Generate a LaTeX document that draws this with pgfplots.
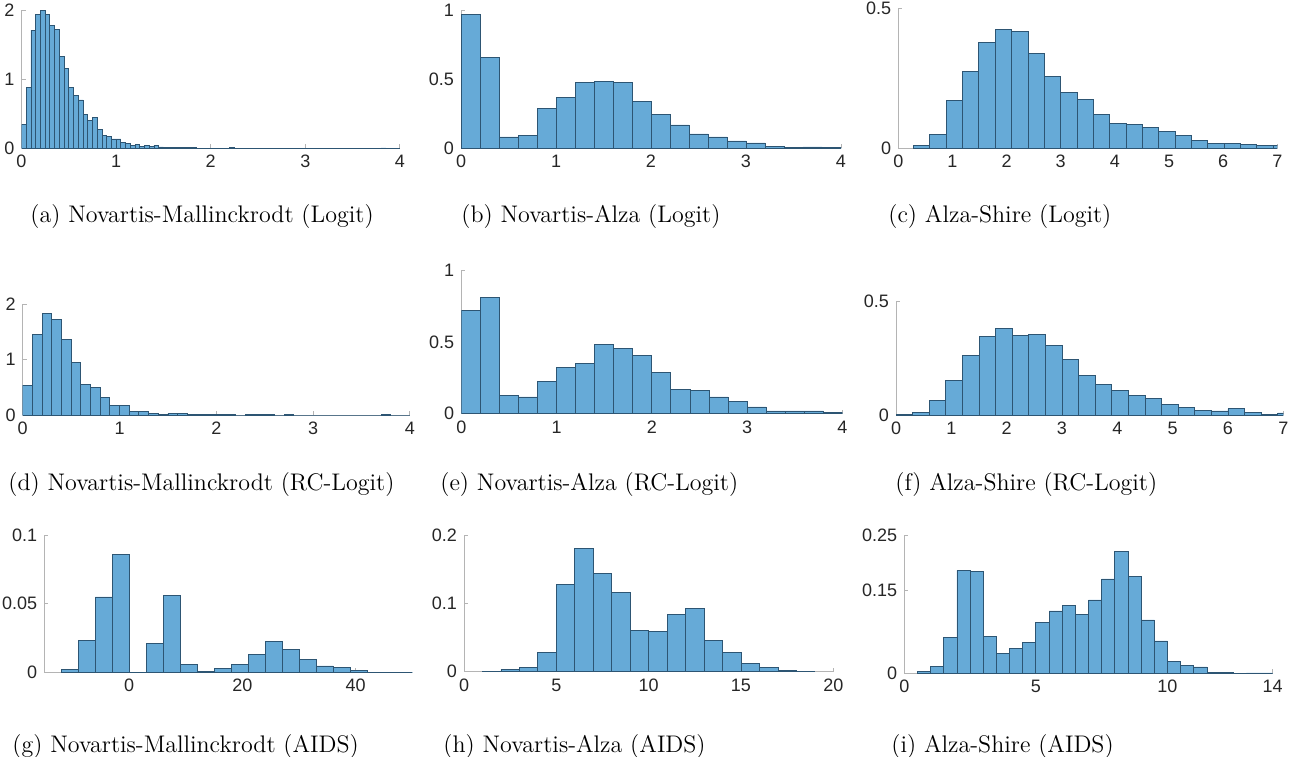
\documentclass[border=0pt]{standalone}
\usepackage{fontspec}
\usepackage{pgfplots}
\pgfplotsset{compat=1.18}
\newfontfamily\helv{Liberation Sans}
\definecolor{barfill}{RGB}{102,170,215}
\definecolor{baredge}{RGB}{45,85,115}
\definecolor{axgray}{RGB}{180,180,180}
\definecolor{tickgray}{RGB}{38,38,38}

\pgfplotsset{
  hist/.style={
    scale only axis, anchor=south west,
    axis x line=bottom, axis y line=left,
    axis line style={-, draw=axgray, line width=0.5pt},
    tick style={draw=axgray, line width=0.5pt},
    tick align=inside, major tick length=2pt,
    ticklabel style={font=\helv\fontsize{9}{10}\selectfont, text=tickgray},
    scaled ticks=false, ymin=0,
  },
  bars/.style={ybar interval, fill=barfill, draw=baredge, line width=0.4pt},
}
\tikzset{subcap/.style={anchor=west, inner sep=0pt, font=\fontsize{12}{14}\selectfont}}

\begin{document}
\begin{tikzpicture}
\path[use as bounding box] (0pt,0pt) rectangle (650.5pt,-378pt);

% (a)
\begin{axis}[hist, at={(10.75pt,-74.15pt)}, width=189.25pt, height=69.15pt,
  xmin=0, xmax=4, ymax=2, xtick={0,1,2,3,4}, xticklabels={0,1,2,3,4},
  ytick={0,1,2}, yticklabels={0,1,2}]
\addplot[bars] coordinates {(0,0.34) (0.05,0.88) (0.1,1.71) (0.15,1.94) (0.2,2.0) (0.25,1.93) (0.3,1.78) (0.35,1.72) (0.4,1.33) (0.45,1.15) (0.5,0.88) (0.55,0.77) (0.6,0.70) (0.65,0.49) (0.7,0.40) (0.75,0.45) (0.8,0.27) (0.85,0.18) (0.9,0.17) (0.95,0.135) (1.0,0.135) (1.05,0.09) (1.1,0.07) (1.15,0.04) (1.2,0.06) (1.25,0.025) (1.3,0.035) (1.35,0.025) (1.4,0.045) (1.45,0.02) (1.5,0.015) (1.55,0.008) (1.6,0.012) (1.65,0.015) (1.7,0.008) (1.75,0.015) (1.8,0.012) (1.85,0.004) (1.9,0.003) (1.95,0.002) (2.0,0.004) (2.05,0.002) (2.1,0.003) (2.15,0.002) (2.2,0.008) (2.25,0.002) (2.3,0) (2.4,0.003) (2.45,0) (3.8,0.005) (3.85,0) (4,0)};
\end{axis}
\node[subcap] at (15pt,-108.5pt) {(a) Novartis-Mallinckrodt (Logit)};

% (b)
\begin{axis}[hist, at={(230.5pt,-74.15pt)}, width=190pt, height=69.15pt,
  xmin=0, xmax=4, ymax=1, xtick={0,1,2,3,4}, xticklabels={0,1,2,3,4},
  ytick={0,0.5,1}, yticklabels={0,0.5,1}]
\addplot[bars] coordinates {(0,0.97) (0.2,0.66) (0.4,0.082) (0.6,0.094) (0.8,0.29) (1.0,0.37) (1.2,0.475) (1.4,0.485) (1.6,0.477) (1.8,0.34) (2.0,0.248) (2.2,0.169) (2.4,0.104) (2.6,0.082) (2.8,0.053) (3.0,0.039) (3.2,0.014) (3.4,0.005) (3.6,0.01) (3.8,0.005) (4.0,0)};
\end{axis}
\node[subcap] at (230.5pt,-108.5pt) {(b) Novartis-Alza (Logit)};

% (c)
\begin{axis}[hist, at={(449.15pt,-74.15pt)}, width=189.5pt, height=70pt,
  xmin=0, xmax=7, ymax=0.5, xtick={0,1,...,7}, xticklabels={0,1,2,3,4,5,6,7},
  ytick={0,0.5}, yticklabels={0,0.5}]
\addplot[bars] coordinates {(0.28,0.011) (0.582,0.05) (0.884,0.171) (1.186,0.276) (1.488,0.379) (1.79,0.425) (2.092,0.418) (2.394,0.340) (2.696,0.257) (2.998,0.2) (3.3,0.176) (3.602,0.121) (3.904,0.089) (4.206,0.086) (4.508,0.076) (4.81,0.06) (5.112,0.046) (5.414,0.029) (5.716,0.017) (6.018,0.018) (6.32,0.015) (6.622,0.011) (6.924,0.011) (7.226,0)};
\end{axis}
\node[subcap] at (444pt,-108.5pt) {(c) Alza-Shire (Logit)};

% (d)
\begin{axis}[hist, at={(11.35pt,-207.5pt)}, width=193.65pt, height=55.35pt,
  xmin=0, xmax=4, ymax=2, xtick={0,1,2,3,4}, xticklabels={0,1,2,3,4},
  ytick={0,1,2}, yticklabels={0,1,2}]
\addplot[bars] coordinates {(0,0.54) (0.1,1.46) (0.2,1.83) (0.3,1.73) (0.4,1.37) (0.5,0.95) (0.6,0.55) (0.7,0.49) (0.8,0.31) (0.9,0.175) (1.0,0.18) (1.1,0.072) (1.2,0.072) (1.3,0.036) (1.4,0.006) (1.5,0.036) (1.6,0.03) (1.7,0.012) (1.8,0.012) (1.9,0.006) (2.0,0.006) (2.1,0.005) (2.2,0) (2.3,0.002) (2.6,0) (2.7,0.002) (2.8,0) (3.7,0.003) (3.8,0) (4.0,0)};
\end{axis}
\node[subcap] at (4pt,-242.5pt) {(d) Novartis-Mallinckrodt (RC-Logit)};

% (e)
\begin{axis}[hist, at={(230.65pt,-206.85pt)}, width=190.5pt, height=71.5pt,
  xmin=0, xmax=4, ymax=1, xtick={0,1,2,3,4}, xticklabels={0,1,2,3,4},
  ytick={0,0.5,1}, yticklabels={0,0.5,1}]
\addplot[bars] coordinates {(0,0.723) (0.2,0.811) (0.4,0.128) (0.6,0.117) (0.8,0.228) (1.0,0.324) (1.2,0.352) (1.4,0.483) (1.6,0.457) (1.8,0.408) (2.0,0.289) (2.2,0.172) (2.4,0.163) (2.6,0.117) (2.8,0.086) (3.0,0.047) (3.2,0.019) (3.4,0.019) (3.6,0.019) (3.8,0.007) (4.0,0)};
\end{axis}
\node[subcap] at (220pt,-242.5pt) {(e) Novartis-Alza (RC-Logit)};

% (f)
\begin{axis}[hist, at={(448pt,-207.5pt)}, width=193.65pt, height=56.85pt,
  xmin=0, xmax=7, ymax=0.5, xtick={0,1,...,7}, xticklabels={0,1,2,3,4,5,6,7},
  ytick={0,0.5}, yticklabels={0,0.5}]
\addplot[bars] coordinates {(0,0.002) (0.3,0.012) (0.6,0.065) (0.9,0.152) (1.2,0.262) (1.5,0.346) (1.8,0.381) (2.1,0.350) (2.4,0.355) (2.7,0.305) (3.0,0.245) (3.3,0.174) (3.6,0.135) (3.9,0.108) (4.2,0.087) (4.5,0.073) (4.8,0.047) (5.1,0.035) (5.4,0.022) (5.7,0.018) (6.0,0.028) (6.3,0.012) (6.6,0.003) (6.9,0.009) (7.2,0)};
\end{axis}
\node[subcap] at (447.5pt,-242.5pt) {(f) Alza-Shire (RC-Logit)};

% (g)
\begin{axis}[hist, at={(22.15pt,-336.15pt)}, width=184pt, height=68.65pt,
  xmin=-15, xmax=50, ymax=0.1, xtick={0,20,40}, xticklabels={0,20,40},
  ytick={0,0.05,0.1}, yticklabels={0,0.05,0.1}]
\addplot[bars] coordinates {(-12,0.0022) (-9,0.0233) (-6,0.0549) (-3,0.0857) (0,0.0002) (3,0.0209) (6,0.0561) (9,0.0058) (12,0.0007) (15,0.0027) (18,0.0058) (21,0.0133) (24,0.0228) (27,0.0165) (30,0.0092) (33,0.0046) (36,0.0036) (39,0.0012) (42,0.0002) (45,0.0002) (48,0.0002) (51,0)};
\end{axis}
\node[subcap] at (6pt,-373pt) {(g) Novartis-Mallinckrodt (AIDS)};

% (h)
\begin{axis}[hist, at={(232pt,-335.85pt)}, width=184.65pt, height=68.35pt,
  xmin=0, xmax=20, ymax=0.2, xtick={0,5,10,15,20}, xticklabels={0,5,10,15,20},
  ytick={0,0.1,0.2}, yticklabels={0,0.1,0.2}]
\addplot[bars] coordinates {(1,0.0005) (2,0.0034) (3,0.0068) (4,0.0283) (5,0.128) (6,0.1805) (7,0.144) (8,0.1166) (9,0.060) (10,0.0595) (11,0.0839) (12,0.0927) (13,0.0454) (14,0.0283) (15,0.0122) (16,0.0068) (17,0.002) (18,0.0005) (19,0)};
\end{axis}
\node[subcap] at (221.5pt,-373pt) {(h) Novartis-Alza (AIDS)};

% (i)
\begin{axis}[hist, at={(452.15pt,-336.65pt)}, width=184.2pt, height=69pt,
  xmin=0, xmax=14, ymax=0.25, xtick={0,5,10,14}, xticklabels={0,5,10,14},
  ytick={0,0.15,0.25}, yticklabels={0,0.15,0.25}]
\addplot[bars] coordinates {(0.5,0.003) (1.0,0.0127) (1.5,0.0652) (2.0,0.1866) (2.5,0.1842) (3.0,0.0664) (3.5,0.0362) (4.0,0.0453) (4.5,0.0562) (5.0,0.0924) (5.5,0.1129) (6.0,0.1232) (6.5,0.1069) (7.0,0.1329) (7.5,0.1709) (8.0,0.221) (8.5,0.1751) (9.0,0.0966) (9.5,0.0586) (10.0,0.0211) (10.5,0.0145) (11.0,0.0115) (11.5,0.0018) (12.0,0.0012) (12.5,0) (13.0,0.0006) (13.5,0.0006) (14.0,0)};
\end{axis}
\node[subcap] at (445.5pt,-373pt) {(i) Alza-Shire (AIDS)};
\end{tikzpicture}
\end{document}
